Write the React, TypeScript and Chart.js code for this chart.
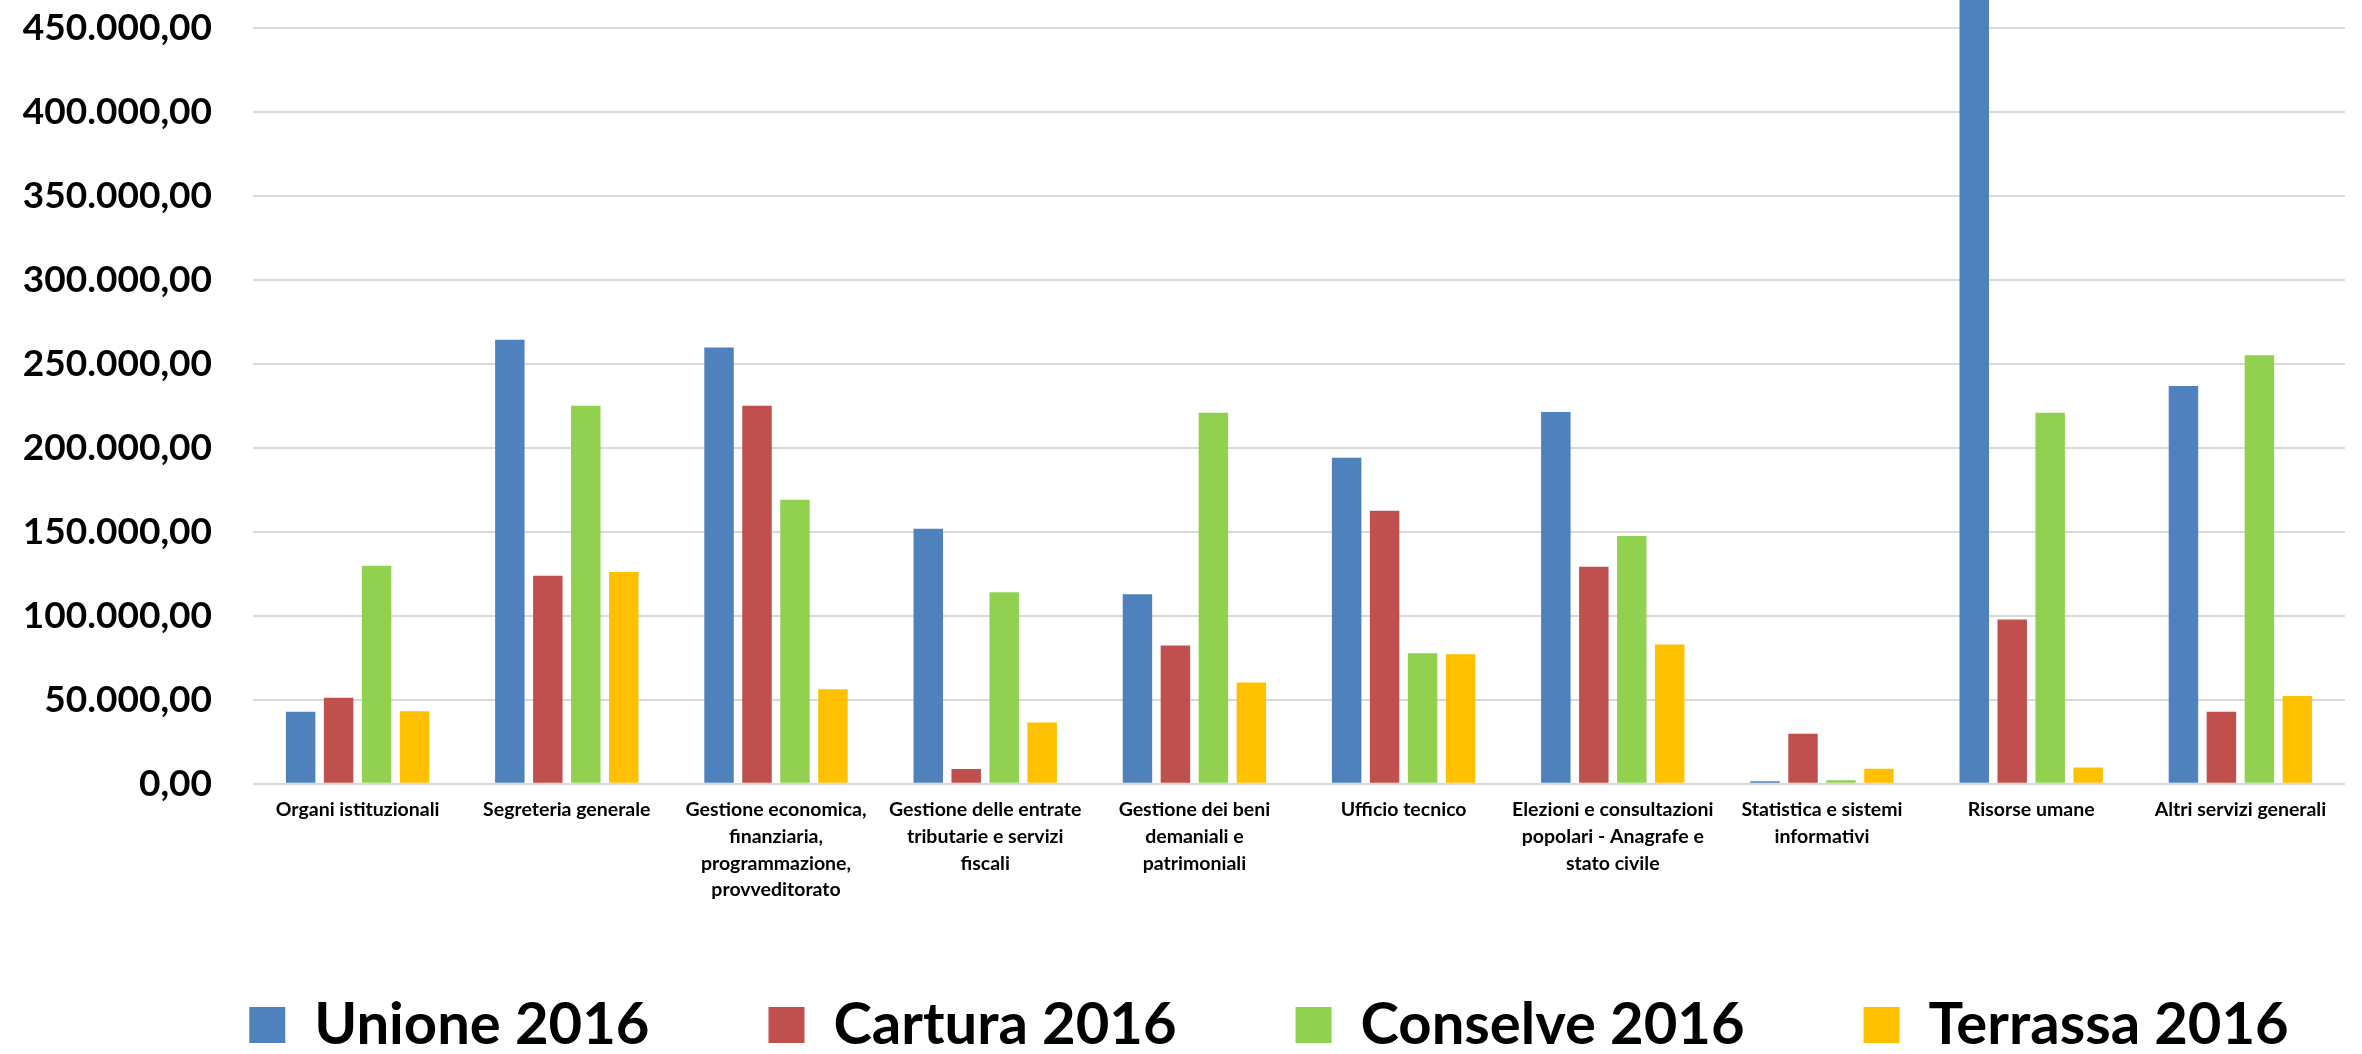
import React, { useEffect, useRef } from 'react';
import { Chart, registerables } from 'chart.js';

Chart.register(...registerables);

const categories: (string | string[])[] = [
  'Organi istituzionali',
  'Segreteria generale',
  ['Gestione economica,', 'finanziaria,', 'programmazione,', 'provveditorato'],
  ['Gestione delle entrate', 'tributarie e servizi', 'fiscali'],
  ['Gestione dei beni', 'demaniali e', 'patrimoniali'],
  'Ufficio tecnico',
  ['Elezioni e consultazioni', 'popolari - Anagrafe e', 'stato civile'],
  ['Statistica e sistemi', 'informativi'],
  'Risorse umane',
  'Altri servizi generali',
];

const seriesNames = ['Unione 2016', 'Cartura 2016', 'Conselve 2016', 'Terrassa 2016'];
const seriesColors = ['#4F81BD', '#C0504D', '#92D050', '#FFC000'];

const unione2016 = [42900, 264300, 259700, 151800, 112700, 194000, 221200, 1400, 470000, 236700];
const cartura2016 = [51200, 123800, 225000, 8700, 82300, 162500, 129200, 29800, 97800, 42900];
const conselve2016 = [129800, 225000, 169000, 113900, 220800, 77600, 147400, 2000, 220800, 255000];
const terrassa2016 = [43100, 126000, 56200, 36500, 60300, 77000, 82900, 8900, 9700, 52200];

const yTickValues = [0, 50000, 100000, 150000, 200000, 250000, 300000, 350000, 400000, 450000];
const yMin = 0;
const yMax = 466500;

function fmtIt(v: number): string {
  const [i, d] = v.toFixed(2).split('.');
  return i.replace(/\B(?=(\d{3})+(?!\d))/g, '.') + ',' + d;
}

const legendPlacePlugin = {
  id: 'legendPlace',
  afterLayout(chart: any) {
    const l = chart.legend;
    if (!l) return;
    const pad = l.options.labels.padding;
    const fontSize = l.options.labels.font.size;
    const c = (l.left + l.right) / 2;
    const dx = 1269 - c;
    l.left += dx;
    l.right += dx;
    const newTop = 1025 - fontSize / 2 - pad;
    const dy = newTop - l.top;
    l.top += dy;
    l.bottom += dy;
  },
};

export default function App() {
  const ref = useRef<HTMLCanvasElement | null>(null);

  useEffect(() => {
    if (!ref.current) return;
    const allSeries = [unione2016, cartura2016, conselve2016, terrassa2016];
    const chart = new Chart(ref.current, {
      type: 'bar',
      data: {
        labels: categories,
        datasets: allSeries.map((d, i) => ({
          label: seriesNames[i],
          data: d,
          backgroundColor: seriesColors[i],
          borderWidth: 0,
          categoryPercentage: 0.726,
          barPercentage: 0.776,
        })),
      },
      options: {
        animation: false,
        responsive: false,
        maintainAspectRatio: false,
        layout: { padding: { left: 0, right: 17, top: 0, bottom: -36.7 } },
        plugins: {
          tooltip: { enabled: false },
          legend: {
            position: 'bottom',
            labels: {
              boxWidth: 36,
              boxHeight: 36,
              padding: 119,
              color: '#000',
              font: { family: 'Lato', weight: 'bold', size: 58 },
            },
          },
        },
        scales: {
          x: {
            grid: { display: false, drawTicks: false },
            border: { display: false },
            ticks: {
              color: '#000',
              autoSkip: false,
              maxRotation: 0,
              minRotation: 0,
              padding: 13,
              font: { family: 'Lato', weight: 'bold', size: 19.5, lineHeight: 1.365 },
            },
            afterFit: (scale: any) => {
              scale.height = 120;
            },
          },
          y: {
            min: yMin,
            max: yMax,
            grid: { color: '#d9d9d9', lineWidth: 2, drawTicks: false },
            border: { display: false },
            ticks: {
              autoSkip: false,
              color: '#000',
              padding: 41,
              font: { family: 'Lato', weight: 'bold', size: 37 },
              callback: (v: any) => fmtIt(Number(v)),
            },
            afterBuildTicks: (scale: any) => {
              scale.ticks = yTickValues.map((v) => ({ value: v }));
            },
            afterFit: (scale: any) => {
              scale.width = 253;
              scale.paddingTop = 0;
              scale.paddingBottom = 0;
            },
          },
        },
      },
      plugins: [legendPlacePlugin],
    });
    return () => chart.destroy();
  }, []);

  return (
    <div style={{ position: 'absolute', left: 0, top: 0, width: 2362, height: 1054, background: '#fff' }}>
      <canvas ref={ref} width={2362} height={1054} style={{ width: 2362, height: 1054, display: 'block' }} />
    </div>
  );
}
